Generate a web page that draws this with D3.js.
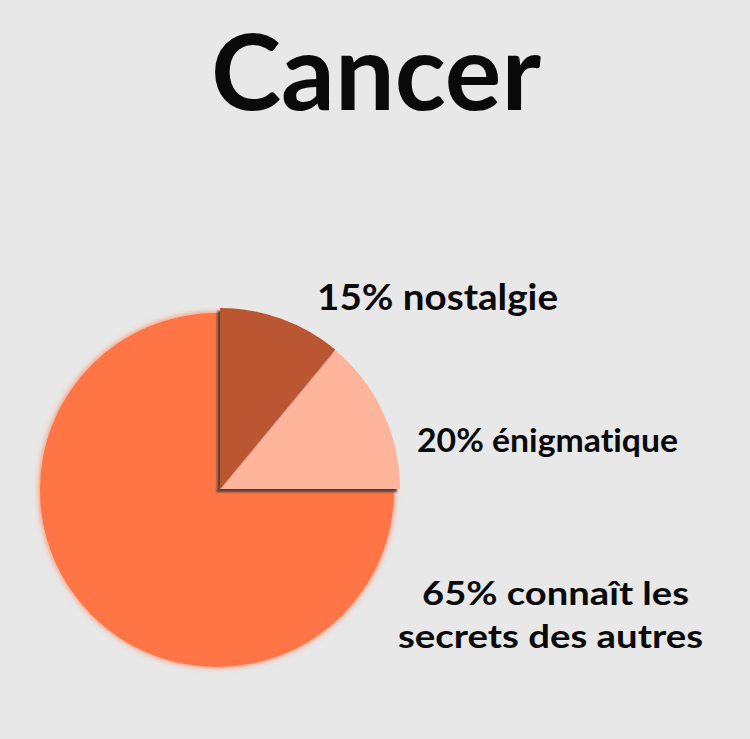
<!DOCTYPE html>
<html>
<head>
<meta charset="utf-8">
<script src="https://cdn.jsdelivr.net/npm/d3@7"></script>
<style>
  html, body { margin: 0; padding: 0; background: #e8e8e8; }
  svg { display: block; }
  text { font-variant-ligatures: none; font-feature-settings: "liga" 0, "clig" 0; }
</style>
</head>
<body>
<script>
// ---- data ----
const title = "Cancer";
const categories = ["nostalgie", "énigmatique", "connaît les secrets des autres"];
const labelPercents = [15, 20, 65];
// slice shares as drawn in the picture (angles)
const sliceShares = [11, 14, 75];
const labelLines = [["15% nostalgie"], ["20% énigmatique"], ["65% connaît les", "secrets des autres"]];
const sliceColors = ["#bb5631", "#ffb49b", "#ff7445"];

const W = 750, H = 739;
const svg = d3.select("body").append("svg").attr("width", W).attr("height", H);
svg.append("rect").attr("width", W).attr("height", H).attr("fill", "#e8e8e8");

const defs = svg.append("defs");
const glow = defs.append("filter").attr("id", "glow").attr("x", "-20%").attr("y", "-20%").attr("width", "140%").attr("height", "140%");
glow.append("feGaussianBlur").attr("in", "SourceGraphic").attr("stdDeviation", 3).attr("result", "b");
glow.append("feMerge").call(m => { m.append("feMergeNode").attr("in", "b"); m.append("feMergeNode").attr("in", "SourceGraphic"); });

const sh = defs.append("filter").attr("id", "shadow").attr("x", "-20%").attr("y", "-20%").attr("width", "140%").attr("height", "140%");
sh.append("feDropShadow").attr("dx", -3).attr("dy", 3).attr("stdDeviation", 1).attr("flood-color", "#4b3a33").attr("flood-opacity", 0.95);

// title
svg.append("text")
  .attr("x", 376).attr("y", 110)
  .attr("text-anchor", "middle")
  .attr("font-family", "Lato, 'Open Sans', sans-serif")
  .attr("font-weight", 700)
  .attr("font-size", 106)
  .attr("fill", "#0a0a0a")
  .text(title);

// pie
const cx = 217, cy = 490;
const pie = d3.pie().sort(null).value(d => d).startAngle(0).endAngle(2 * Math.PI);
const arcs = pie(sliceShares);
const arcBig = d3.arc().innerRadius(0).outerRadius(177);
const arcSmall = d3.arc().innerRadius(0).outerRadius(181);

const g = svg.append("g").attr("transform", `translate(${cx},${cy})`);
g.append("path")
  .attr("d", arcBig(arcs[2]))
  .attr("fill", sliceColors[2])
  .attr("filter", "url(#glow)");
[1, 0].forEach(i => {
  g.append("path")
    .attr("d", arcSmall(arcs[i]))
    .attr("transform", i === 0 ? "translate(3,-1)" : "translate(2,-1)")
    .attr("fill", sliceColors[i])
    .attr("filter", "url(#shadow)");
});

// labels
const lg = svg.append("g")
  .attr("font-family", "Lato, 'Open Sans', sans-serif")
  .attr("font-weight", 700)
  .attr("fill", "#0a0a0a");
function label(txt, x, y, size, len) {
  lg.append("text").attr("x", x).attr("y", y).attr("font-size", size)
    .attr("textLength", len).attr("lengthAdjust", "spacingAndGlyphs").text(txt);
}
label(labelLines[0][0], 317, 310, 37, 241);
label(labelLines[1][0], 417, 452, 32, 261);
label(labelLines[2][0], 422, 605, 33, 267);
label(labelLines[2][1], 398, 648, 33, 305);
</script>
</body>
</html>
